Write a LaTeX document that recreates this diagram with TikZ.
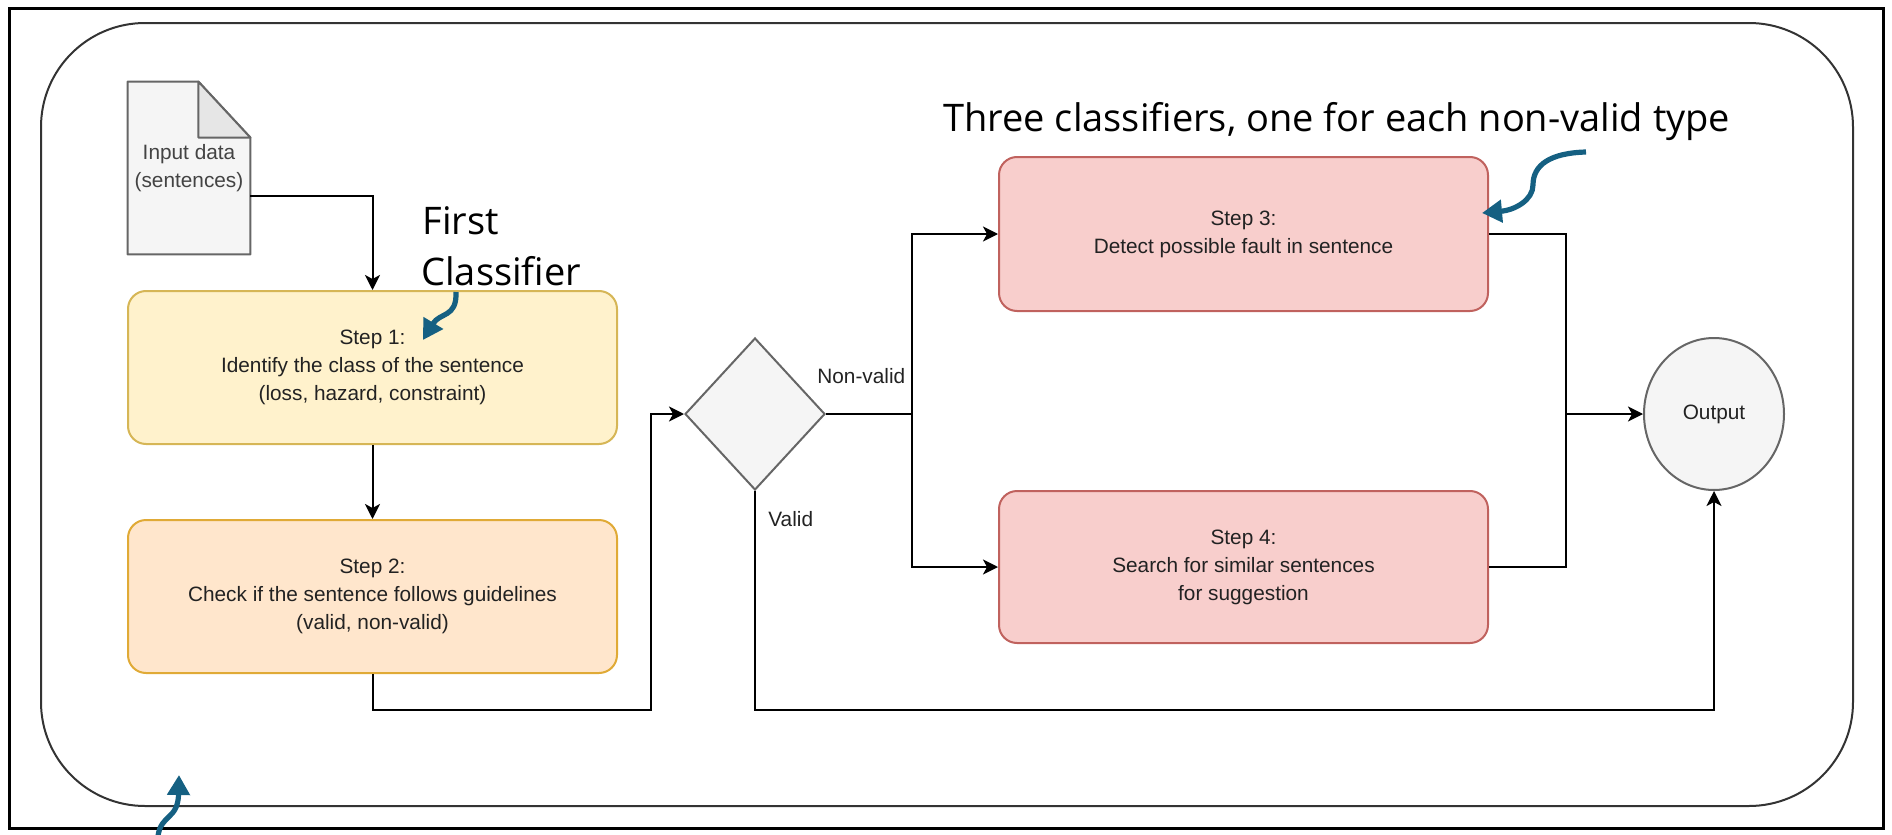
\documentclass[tikz,border=0pt]{standalone}
\usepackage{fontspec}
\setmainfont{Liberation Sans}
\newfontfamily\annfont{Open Sans}
\usetikzlibrary{shapes.geometric,arrows.meta,calc,backgrounds}
\definecolor{yfill}{HTML}{FFF2CC}
\definecolor{ydraw}{HTML}{D6B656}
\definecolor{ofill}{HTML}{FFE6CC}
\definecolor{odraw}{HTML}{E0AA36}
\definecolor{rfill}{HTML}{F8CECC}
\definecolor{rdraw}{HTML}{C0625E}
\definecolor{gfill}{HTML}{F5F5F5}
\definecolor{gdraw}{HTML}{666666}
\definecolor{foldc}{HTML}{E6E6E6}
\definecolor{txt}{HTML}{222222}
\definecolor{accent}{HTML}{156082}
\tikzset{
  stepbox/.style={draw, rounded corners=9pt, line width=1pt, minimum width=244.5pt,
    minimum height=76.5pt, align=center, text=txt, inner sep=0pt,
    font=\fontsize{10.4pt}{14pt}\selectfont},
  conn/.style={line width=1pt, -{Stealth[length=7.5pt,width=7.5pt,inset=2pt]}},
  plainline/.style={line width=1pt},
  callout/.style={draw=accent, line width=2.6pt, -{Triangle[length=10pt,width=11pt]}},
  ann/.style={font=\annfont\fontsize{19pt}{25.5pt}\selectfont, inner sep=0pt, anchor=base west},
  lab/.style={font=\fontsize{10.4pt}{14pt}\selectfont, text=txt, inner sep=0pt, anchor=base west},
}
\begin{document}
\begin{tikzpicture}[x=0.5pt,y=-0.5pt]
\useasboundingbox (0,0) rectangle (1892,835);
% frames
\draw[line width=1.5pt] (9,8) rectangle (1883,828);
\draw[line width=1pt, draw=black!80, rounded corners=52pt] (41,23) rectangle (1853,806);

% input document
\node[minimum width=61pt, minimum height=86pt, inner sep=0pt, align=center, text=txt!85,
      font=\fontsize{10.4pt}{14pt}\selectfont] (doc) at (189,168) {Input data\\(sentences)};
\begin{scope}[on background layer]
\draw[gdraw, line width=1pt, fill=gfill, line join=round]
  (doc.north west) -- ($(doc.north east)+(-52,0)$) -- ($(doc.north east)+(0,56)$)
  -- (doc.south east) -- (doc.south west) -- cycle;
\draw[gdraw, line width=1pt, fill=foldc, line join=round]
  ($(doc.north east)+(-52,0)$) -- ($(doc.north east)+(-52,56)$) -- ($(doc.north east)+(0,56)$) -- cycle;
\end{scope}

% steps
\node[stepbox, fill=yfill, draw=ydraw] (s1) at (372.5,367.5)
  {Step 1:\\Identify the class of the sentence\\(loss, hazard, constraint)};
\node[stepbox, fill=ofill, draw=odraw] (s2) at (372.5,596.5)
  {Step 2:\\Check if the sentence follows guidelines\\(valid, non-valid)};
\node[stepbox, fill=rfill, draw=rdraw, minimum height=77pt] (s3) at (1243.5,234)
  {Step 3:\\Detect possible fault in sentence};
\node[stepbox, fill=rfill, draw=rdraw, minimum height=76pt] (s4) at (1243.5,567)
  {Step 4:\\Search for similar sentences\\for suggestion};

\node[diamond, draw=gdraw, fill=gfill, line width=1pt, minimum width=70pt,
      minimum height=76pt, inner sep=0pt] (dia) at (755,414) {};
\node[ellipse, draw=gdraw, fill=gfill, line width=1pt, minimum width=70pt,
      minimum height=76pt, inner sep=0pt, text=txt,
      font=\fontsize{10.4pt}{14pt}\selectfont] (out) at (1714,414) {Output};

\coordinate (c1) at (651,710);
\coordinate (split) at (912,414);
\coordinate (join) at (1566,414);

% connectors
\draw[conn] (doc.east) ++(0,28) -| (s1.north);
\draw[conn] (s1) -- (s2);
\draw[conn] (s2.south) |- (c1) |- (dia.west);
\draw[plainline] (dia.east) -- (split);
\draw[conn] (split) |- (s3.west);
\draw[conn] (split) |- (s4.west);
\draw[plainline] (s3.east) -| (join);
\draw[plainline] (s4.east) -| (join);
\draw[conn] (join) -- (out.west);
\draw[conn] (dia.south) |- (c1 -| out.south) -- (out.south);

\node[lab] (nv) at (817,383) {Non-valid};
\node[lab] (vl) at (768,526) {Valid};

% annotations
\node[ann] (three) at (943,131) {Three classifiers, one for each non-valid type};
\node[ann] (first) at (422,234) {First};
\node[ann] (classif) at (421,285) {Classifier};

\draw[callout] (456,292) .. controls (457,318) and (440,312) .. (423,340);
\draw[callout] (1586,152) .. controls (1550,153) and (1533,165) .. (1533,185)
  .. controls (1533,200) and (1515,210) .. (1482,213);
\draw[callout] (158,836) .. controls (161,814) and (178,820) .. (179,775);
\end{tikzpicture}
\end{document}
